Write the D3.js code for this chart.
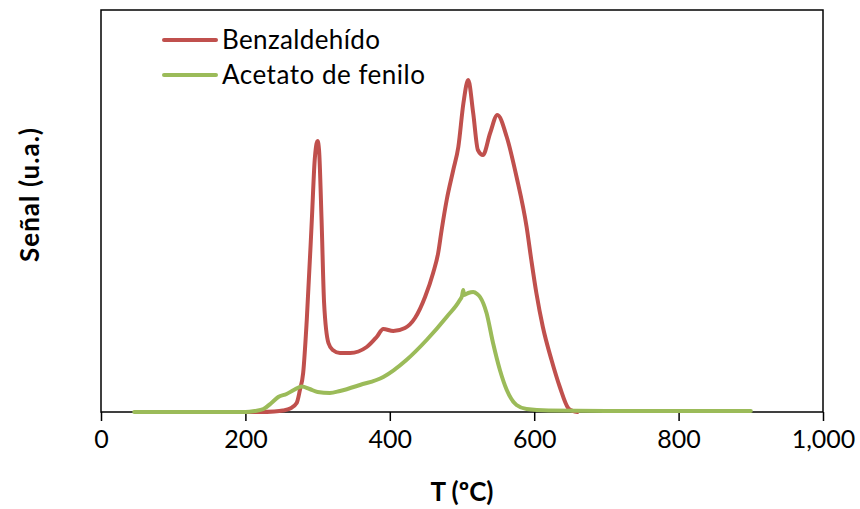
<!DOCTYPE html>
<html><head><meta charset="utf-8">
<script src="https://cdn.jsdelivr.net/npm/d3@7"></script>
<style>body{margin:0;background:#fff}svg{display:block}text{font-family:Lato,"Open Sans",sans-serif;fill:#000}</style>
</head><body><svg id="c" width="860" height="509"></svg>
<script>
const xTicks = [0, 200, 400, 600, 800, 1000];
const seriesNames = ["Benzaldehído", "Acetato de fenilo"];
const benzT = [50,200,220,240,252,262,271,275.5,280,285,292,296,300,302,305.5,309,315,321,331,345,368,381.8,391,404.8,421,434.9,448.8,460,467,471.8,478.8,487.9,494.9,502,508.6,515.5,522,529,539,549,562,575.6,589.5,596,603,612,624,635.5,647,653.5,660];
const benzS = [0,0,0,0.5,1.5,3.5,9,22,39,92,192,252,271,262,192,109,69,62,59,59,65,75,83,81,84,94,115,139,159,182,212,242,265,309,332,299,262,257,279,297,275,235,185,152,119,85,52,25,4,1,0];
const fenT = [46,200,213,225,236,245.5,257,267,278,289,300,317,331,358.7,391,423,451,478.7,497,500,501.7,503,508.6,515.5,521,525,534,543,552.5,562,575.5,589.5,620,700,900];
const fenS = [0,0,1,3,9,15,18,22,25.5,23,20,19,21,27,35,52,72,95,112,116,122,117,119,120,118,115,99,69,42,22,7,3,1.5,1,1];

const svg = d3.select("#c");
const x = d3.scaleLinear().domain([0, 1000]).range([101, 823]);
const y = d3.scaleLinear().domain([0, 402]).range([412, 10]);

svg.append("rect").attr("x",101).attr("y",10).attr("width",722).attr("height",402)
  .attr("fill","none").attr("stroke","#000").attr("stroke-width",1.5);

const xAxis = svg.append("g").attr("transform","translate(0,412)")
  .call(d3.axisBottom(x).tickValues(xTicks).tickSize(9).tickPadding(9).tickFormat(d3.format(",")));
xAxis.select(".domain").remove();
xAxis.selectAll("line").attr("stroke","#000").attr("stroke-width",1.5);
xAxis.selectAll("text").style("font-size","25px").style("font-family","Lato");

const line = d3.line().x(d=>x(d[0])).y(d=>y(d[1])).curve(d3.curveMonotoneX);
const colors = ["#C0504D", "#9BBB59"];
const data = [d3.zip(benzT, benzS), d3.zip(fenT, fenS)];
data.forEach((d,i)=>{
  svg.append("path").datum(d).attr("d", line).attr("fill","none")
    .attr("stroke", colors[i]).attr("stroke-width", 4).attr("stroke-linejoin","round").attr("stroke-linecap","round");
});

// legend
const legendLen = [158, 203];
seriesNames.forEach((n,i)=>{
  const ly = 40 + i*35;
  svg.append("line").attr("x1",164).attr("x2",216).attr("y1",ly).attr("y2",ly)
    .attr("stroke",colors[i]).attr("stroke-width",4).attr("stroke-linecap","round");
  svg.append("text").attr("x",222).attr("y",ly+9).style("font-size","26px")
    .attr("textLength",legendLen[i]).attr("lengthAdjust","spacing").text(n);
});

svg.append("text").attr("x",462).attr("y",501).attr("text-anchor","middle")
  .style("font-size","26px").style("font-weight","bold").text("T (ºC)");
svg.append("text").attr("transform","translate(39,195) rotate(-90)").attr("text-anchor","middle")
  .style("font-size","26px").style("font-weight","bold")
  .attr("textLength",134).attr("lengthAdjust","spacing").text("Señal (u.a.)");
</script></body></html>
